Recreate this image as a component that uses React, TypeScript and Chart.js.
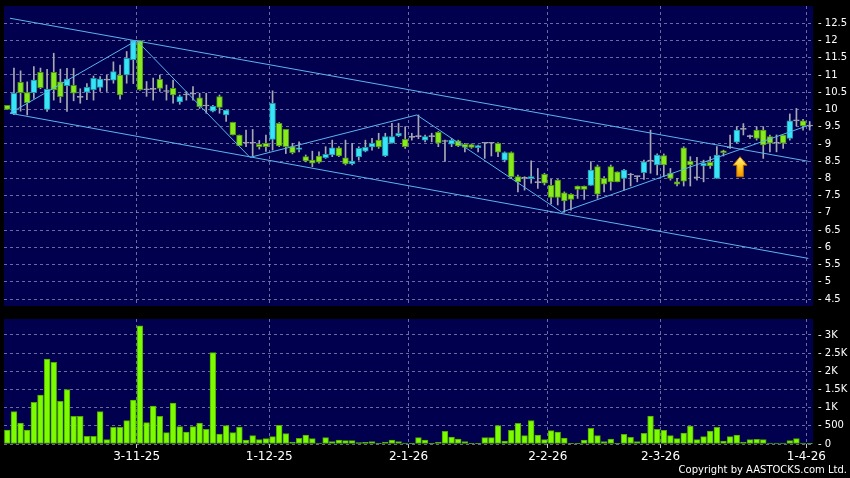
import React, { useEffect, useRef } from 'react';
import { Chart, registerables } from 'chart.js';

Chart.register(...registerables);

// ---- data ----
const dateTickIndex = [20, 40, 61, 82, 99, 121];
const dateTickLabels = ['3-11-25', '1-12-25', '2-1-26', '2-2-26', '2-3-26', '1-4-26'];

const opens = [
  10.12, 9.87, 10.79, 10.49, 10.49, 11.08, 10.0, 11.08, 10.80, 10.69,
  10.70, 10.35, 10.50, 10.57, 10.64, 10.85, 10.85, 11.0, 11.0, 11.44,
  12.0, 10.57, 10.58, 10.87, 10.52, 10.61, 10.22, 10.42, 10.44, 10.34,
  10.10, 9.95, 10.37, 9.84, 9.63, 9.26, 9.02, 9.02, 8.99, 9.02,
  9.13, 9.60, 9.42, 8.92, 8.84, 8.63, 8.53, 8.65, 8.60, 8.68,
  8.89, 8.60, 8.42, 8.63, 8.79, 8.91, 9.11, 8.65, 9.02, 9.23,
  9.13, 9.19, 9.21, 9.11, 9.21, 9.34, 9.07, 8.99, 9.09, 8.99,
  8.98, 8.89, 9.02, 9.02, 9.02, 8.53, 8.75, 8.05, 8.0, 7.99,
  7.88, 8.12, 7.80, 7.95, 7.58, 7.54, 7.78, 7.78, 7.80, 8.34,
  8.0, 8.34, 8.19, 8.0, 8.10, 8.05, 8.17, 8.50, 8.39, 8.66,
  8.15, 7.90, 8.89, 8.50, 8.02, 8.36, 8.47, 8.0, 8.80, 8.89,
  9.05, 9.42, 9.21, 9.40, 9.40, 9.21, 9.02, 9.26, 9.16, 9.67,
  9.67, 9.52,
];
const closes = [
  10.0, 10.47, 10.49, 10.20, 10.85, 10.63, 10.58, 10.57, 10.37, 10.88,
  10.47, 10.35, 10.64, 10.90, 10.88, 10.85, 11.10, 10.42, 11.48, 12.0,
  10.57, 10.57, 10.58, 10.61, 10.52, 10.42, 10.37, 10.42, 10.44, 10.08,
  10.10, 10.09, 10.06, 9.98, 9.26, 8.95, 9.02, 9.02, 8.92, 8.92,
  10.18, 8.94, 8.92, 8.75, 8.89, 8.51, 8.44, 8.47, 8.70, 8.89,
  8.65, 8.42, 8.50, 8.87, 8.90, 9.02, 8.91, 9.21, 9.21, 9.31,
  8.92, 9.19, 9.21, 9.21, 9.21, 9.02, 9.07, 9.11, 8.94, 8.90,
  8.90, 8.95, 9.02, 9.02, 8.76, 8.75, 8.05, 7.90, 8.0, 8.05,
  7.88, 7.86, 7.45, 7.45, 7.35, 7.39, 7.68, 7.68, 8.24, 7.54,
  7.83, 7.90, 7.90, 8.24, 8.10, 8.05, 8.48, 8.50, 8.68, 8.39,
  8.0, 7.83, 7.92, 8.39, 8.02, 8.44, 8.36, 8.68, 8.75, 8.89,
  9.40, 9.42, 9.21, 9.16, 8.97, 9.02, 9.02, 9.02, 9.67, 9.67,
  9.52, 9.52,
];
const highs = [
  10.12, 11.2, 11.12, 10.80, 11.24, 11.2, 11.16, 11.63, 11.17, 11.19,
  11.19, 10.6, 10.75, 10.97, 10.95, 10.99, 11.38, 11.29, 11.68, 12.0,
  12.0, 10.81, 10.91, 11.0, 10.71, 10.85, 10.42, 10.52, 10.66, 10.47,
  10.47, 10.12, 10.42, 9.98, 9.63, 9.26, 9.40, 9.42, 9.10, 9.26,
  10.54, 9.62, 9.42, 9.02, 9.06, 8.68, 8.79, 8.77, 8.92, 9.11,
  8.92, 9.11, 9.02, 8.92, 9.11, 9.16, 9.31, 9.31, 9.60, 9.60,
  9.50, 9.31, 9.84, 9.26, 9.31, 9.36, 9.11, 9.16, 9.11, 9.02,
  9.0, 8.97, 9.04, 9.04, 9.04, 8.77, 8.77, 8.10, 8.05, 8.51,
  8.29, 8.15, 7.97, 7.97, 7.61, 7.56, 7.78, 7.78, 8.49, 8.39,
  8.05, 8.39, 8.19, 8.26, 8.15, 8.07, 8.53, 9.40, 8.71, 8.71,
  8.29, 8.0, 8.92, 8.63, 8.61, 8.53, 8.63, 8.92, 8.82, 9.26,
  9.50, 9.59, 9.26, 9.50, 9.50, 9.26, 9.26, 9.26, 9.87, 10.03,
  9.71, 9.65,
];
const lows = [
  10.0, 9.85, 9.95, 9.84, 10.32, 10.6, 9.94, 10.27, 10.2, 9.94,
  10.25, 10.18, 10.28, 10.27, 10.52, 10.52, 10.76, 10.3, 10.76, 10.75,
  10.55, 10.38, 10.27, 10.52, 10.27, 10.18, 10.15, 10.27, 10.27, 10.03,
  9.89, 9.93, 9.89, 9.65, 9.26, 8.95, 8.92, 8.65, 8.85, 8.78,
  8.82, 8.92, 8.72, 8.71, 8.77, 8.48, 8.34, 8.44, 8.58, 8.63,
  8.63, 8.39, 8.39, 8.53, 8.77, 8.82, 8.87, 8.63, 9.02, 9.21,
  8.87, 9.11, 9.15, 9.06, 9.06, 8.92, 8.49, 8.92, 8.92, 8.77,
  8.87, 8.77, 8.58, 8.65, 8.63, 8.48, 8.0, 7.61, 7.66, 7.86,
  7.71, 7.81, 7.26, 7.23, 7.03, 7.08, 7.42, 7.39, 7.80, 7.42,
  7.61, 7.66, 7.90, 7.66, 7.78, 7.90, 7.97, 8.15, 8.10, 8.05,
  7.95, 7.78, 7.78, 7.78, 7.95, 7.90, 8.29, 8.0, 8.65, 8.87,
  9.02, 9.26, 9.16, 9.11, 8.58, 8.77, 8.77, 8.87, 9.11, 9.52,
  9.40, 9.40,
];
const volumes = [
  385, 890, 578, 385, 1146, 1348, 2338, 2247, 1174, 1495,
  761, 761, 211, 211, 890, 119, 459, 459, 642, 1210,
  3255, 587, 1045, 761, 312, 1128, 477, 330, 477, 578,
  403, 2513, 275, 504, 312, 468, 110, 229, 119, 147,
  202, 514, 284, 55, 156, 248, 147, 28, 174, 64,
  110, 92, 92, 37, 46, 64, 18, 55, 110, 64,
  28, 9, 174, 110, 9, 46, 348, 193, 138, 64,
  9, 9, 174, 174, 504, 83, 376, 569, 229, 642,
  248, 119, 367, 330, 165, 9, 9, 110, 431, 229,
  64, 138, 5, 266, 183, 64, 293, 770, 403, 376,
  229, 147, 303, 495, 119, 202, 358, 459, 83, 202,
  248, 55, 119, 128, 119, 28, 28, 28, 92, 147,
  28, 20,
];

const priceTicks = [4.5, 5, 5.5, 6, 6.5, 7, 7.5, 8, 8.5, 9, 9.5, 10, 10.5, 11, 11.5, 12, 12.5];
const priceTickLabels = ['4.5', '5', '5.5', '6', '6.5', '7', '7.5', '8', '8.5', '9', '9.5', '10', '10.5', '11', '11.5', '12', '12.5'];
const volumeTicks = [0, 500, 1000, 1500, 2000, 2500, 3000];
const volumeTickLabels = ['0', '500', '1K', '1.5K', '2K', '2.5K', '3K'];

const upperChannel = [{ x: 0.4, y: 12.645 }, { x: 120.7, y: 8.5 }];
const lowerChannel = [{ x: 0.4, y: 9.89 }, { x: 120.8, y: 5.68 }];
const zigzag = [
  { x: 0.4, y: 9.89 }, { x: 19.5, y: 12.0 }, { x: 36.6, y: 8.61 },
  { x: 61.75, y: 9.84 }, { x: 83.6, y: 7.02 }, { x: 120.7, y: 9.53 },
];
const signalArrow = { x: 110.5, y: 8.63 };

// ---- styling ----
const NAVY = '#00004e';
const CYAN = '#38e4f8';
const CYAN_EDGE = '#1d98a8';
const GREEN = '#86ea1c';
const GREEN_EDGE = '#4f9410';
const GRAY = '#a8a8b4';
const LINE = '#5cb4ee';
const GRID = 'rgba(165,165,200,0.65)';
const FONT = 'DejaVu Sans';

const xMin = -0.5;
const xMax = opens.length - 0.5;

const bgPlugin = {
  id: 'bgPlugin',
  beforeDraw(chart: any) {
    const { ctx, chartArea: a } = chart;
    ctx.save();
    ctx.fillStyle = '#000';
    ctx.fillRect(0, 0, chart.width, chart.height);
    ctx.fillStyle = NAVY;
    ctx.fillRect(a.left, a.top, a.right - a.left, a.bottom - a.top);
    ctx.restore();
  },
};

const arrowPlugin = {
  id: 'arrowPlugin',
  afterDatasetsDraw(chart: any) {
    const { ctx } = chart;
    const xs = chart.scales.x;
    const ys = chart.scales.y;
    const cx = xs.getPixelForValue(signalArrow.x);
    const ty = ys.getPixelForValue(signalArrow.y);
    ctx.save();
    const g = ctx.createLinearGradient(0, ty, 0, ty + 20);
    g.addColorStop(0, '#fff490');
    g.addColorStop(0.5, '#ffcc22');
    g.addColorStop(1, '#f39200');
    ctx.beginPath();
    ctx.moveTo(cx, ty);
    ctx.lineTo(cx + 7, ty + 8.5);
    ctx.lineTo(cx + 3.3, ty + 8.5);
    ctx.lineTo(cx + 3.3, ty + 20);
    ctx.lineTo(cx - 3.3, ty + 20);
    ctx.lineTo(cx - 3.3, ty + 8.5);
    ctx.lineTo(cx - 7, ty + 8.5);
    ctx.closePath();
    ctx.fillStyle = g;
    ctx.fill();
    ctx.strokeStyle = '#b86a00';
    ctx.lineWidth = 1;
    ctx.stroke();
    ctx.restore();
  },
};

const idx = opens.map((_, i) => i);
const candleColor = idx.map((i) => (closes[i] > opens[i] ? CYAN : closes[i] < opens[i] ? GREEN : GRAY));
const candleEdge = idx.map((i) => (closes[i] > opens[i] ? CYAN_EDGE : closes[i] < opens[i] ? GREEN_EDGE : GRAY));

function xAxis(showLabels: boolean) {
  return {
    type: 'linear',
    min: xMin,
    max: xMax,
    offset: false,
    bounds: 'data',
    afterBuildTicks: (s: any) => {
      s.ticks = dateTickIndex.map((v) => ({ value: v - 0.5 }));
    },
    afterFit: (s: any) => {
      s.height = showLabels ? 34 : 0;
      s.paddingLeft = 0;
      s.paddingRight = 0;
    },
    grid: {
      display: true,
      offset: false,
      color: GRID,
      lineWidth: 1,
      drawTicks: showLabels,
      tickLength: 4,
      tickColor: '#c8c8c8',
      tickBorderDash: [],
      tickWidth: 1,
    },
    border: { display: false, dash: [3, 3] },
    ticks: {
      display: showLabels,
      autoSkip: false,
      maxRotation: 0,
      padding: 2,
      color: '#ffffff',
      font: { family: FONT, size: 12 },
      callback: (_v: any, i: number) => dateTickLabels[i],
    },
  };
}

function yAxis(min: number, max: number, ticks: number[], labels: string[]) {
  return {
    type: 'linear',
    position: 'right',
    min,
    max,
    beginAtZero: false,
    afterBuildTicks: (s: any) => {
      s.ticks = ticks.map((v) => ({ value: v }));
    },
    afterFit: (s: any) => {
      s.width = 37;
      s.paddingTop = 0;
      s.paddingBottom = 0;
    },
    grid: { display: true, color: GRID, lineWidth: 1, drawTicks: false },
    border: { display: false, dash: [3, 3] },
    ticks: {
      autoSkip: false,
      padding: 5,
      align: 'center',
      crossAlign: 'near',
      color: '#ffffff',
      font: { family: FONT, size: 10 },
      callback: (_v: any, i: number) => '- ' + labels[i],
    },
  };
}

export default function App() {
  const priceRef = useRef<HTMLCanvasElement>(null);
  const volRef = useRef<HTMLCanvasElement>(null);

  useEffect(() => {
    const priceChart = new Chart(priceRef.current as HTMLCanvasElement, {
      type: 'bar',
      data: {
        datasets: [
          {
            type: 'line',
            data: zigzag,
            borderColor: LINE,
            borderWidth: 1,
            pointRadius: 0,
            tension: 0,
            fill: false,
          } as any,
          {
            type: 'line',
            data: upperChannel,
            borderColor: LINE,
            borderWidth: 1,
            pointRadius: 0,
            tension: 0,
            fill: false,
          } as any,
          {
            type: 'line',
            data: lowerChannel,
            borderColor: LINE,
            borderWidth: 1,
            pointRadius: 0,
            tension: 0,
            fill: false,
          } as any,
          {
            type: 'bar',
            data: idx.map((i) => ({ x: i, y: [opens[i], closes[i]] })),
            backgroundColor: candleColor,
            borderColor: candleEdge,
            borderWidth: 1,
            borderSkipped: false,
            barThickness: 5.8,
            minBarLength: 1,
            grouped: false,
          } as any,
          {
            type: 'bar',
            data: idx.map((i) => ({ x: i, y: [lows[i], highs[i]] })),
            backgroundColor: GRAY,
            borderWidth: 0,
            barThickness: 1,
            grouped: false,
          } as any,
        ],
      },
      options: {
        responsive: false,
        maintainAspectRatio: false,
        animation: false,
        events: [],
        layout: { padding: { left: 4, top: 6, right: 0, bottom: 6 } },
        plugins: { legend: { display: false }, tooltip: { enabled: false } },
        scales: {
          x: xAxis(false) as any,
          y: yAxis(4.3, 13.0, priceTicks, priceTickLabels) as any,
        },
      },
      plugins: [bgPlugin, arrowPlugin],
    });

    const volChart = new Chart(volRef.current as HTMLCanvasElement, {
      type: 'bar',
      data: {
        datasets: [
          {
            data: idx.map((i) => ({ x: i, y: volumes[i] })),
            backgroundColor: '#7cfc00',
            borderColor: '#52a800',
            borderWidth: 1,
            borderSkipped: false,
            barThickness: 5.8,
            grouped: false,
          } as any,
        ],
      },
      options: {
        responsive: false,
        maintainAspectRatio: false,
        animation: false,
        events: [],
        layout: { padding: { left: 4, top: 7, right: 0, bottom: 0 } },
        plugins: { legend: { display: false }, tooltip: { enabled: false } },
        scales: {
          x: xAxis(true) as any,
          y: yAxis(0, 3440, volumeTicks, volumeTickLabels) as any,
        },
      },
      plugins: [bgPlugin],
    });

    return () => {
      priceChart.destroy();
      volChart.destroy();
    };
  }, []);

  return (
    <div
      style={{
        position: 'fixed',
        left: 0,
        top: 0,
        width: 850,
        height: 478,
        background: '#000',
        overflow: 'hidden',
      }}
    >
      <canvas ref={priceRef} width={850} height={312} style={{ position: 'absolute', left: 0, top: 0 }} />
      <canvas ref={volRef} width={850} height={166} style={{ position: 'absolute', left: 0, top: 312 }} />
      <div
        style={{
          position: 'absolute',
          right: 3,
          top: 464,
          color: '#fff',
          fontFamily: FONT,
          fontSize: 10,
          lineHeight: '12px',
          whiteSpace: 'nowrap',
        }}
      >
        Copyright by AASTOCKS.com Ltd.
      </div>
    </div>
  );
}
